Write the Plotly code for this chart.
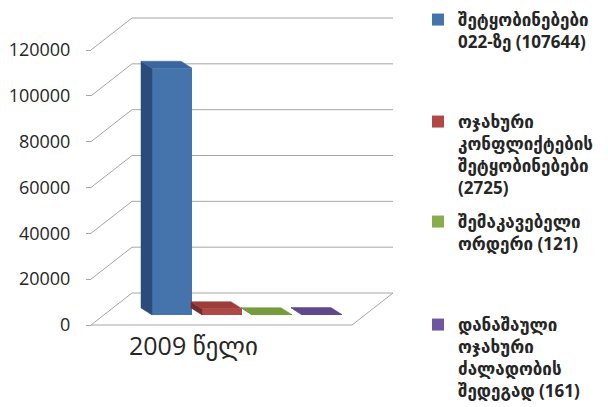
import plotly.graph_objects as go

# ---------------- data ----------------
category = "2009 წელი"
series_names = [
    "შეტყობინებები<br>022-ზე (107644)",
    "ოჯახური<br>კონფლიქტების<br>შეტყობინებები<br>(2725)",
    "შემაკავებელი<br>ორდერი (121)",
    "დანაშაული<br>ოჯახური<br>ძალადობის<br>შედეგად (161)",
]
series_values = [107644, 2725, 121, 161]
y_tickvals = [0, 20000, 40000, 60000, 80000, 100000, 120000]
y_ticktext = ["0", "20000", "40000", "60000", "80000", "100000", "120000"]

# ---------------- styling ----------------
front_colors = ["#4574AC", "#B04946", "#88AD4A", "#6E57A0"]
side_colors = ["#2B4C7A", "#762C2A", "#5B782C", "#4B3A72"]
top_colors = ["#3A659E", "#9E3E3B", "#769A3E", "#5D498C"]
grid_color = "#A6A6A6"
text_color = "#262626"

W, H = 608, 407
off = 8                                    # page body margin of the browser
zero_px, top_px = 325, 50                  # screen rows for 0 and 120000
scale = (zero_px - top_px) / max(y_tickvals)   # px per unit
ymin = -(H - (zero_px - off)) / scale
ymax = ymin + H / scale

wall_x0 = 91          # front-left edge of the side wall (screen px)
depth_dx = 41         # horizontal depth of the floor (px)
depth_dy = 32 / scale # vertical depth of the floor (units)
wall_right = 393
floor_right = 352

bar_first_center = 172
bar_step = 50
bar_width = 40
bar_base = 4400                     # bars stand back on the floor
bar_side_dx = -11
bar_side_dy = 7 / scale

fig = go.Figure()

# walls / gridlines as shapes below the traces
shapes = []
line = dict(color=grid_color, width=1)
for v in y_tickvals:
    shapes.append(dict(type="line", xref="x", yref="y", x0=wall_x0, y0=v,
                       x1=wall_x0 + depth_dx, y1=v + depth_dy, line=line, layer="below"))
    shapes.append(dict(type="line", xref="x", yref="y", x0=wall_x0 + depth_dx, y0=v + depth_dy,
                       x1=wall_right, y1=v + depth_dy, line=line, layer="below"))
shapes.append(dict(type="line", xref="x", yref="y", x0=wall_x0, y0=0, x1=floor_right, y1=0,
                   line=line, layer="below"))
shapes.append(dict(type="line", xref="x", yref="y", x0=floor_right, y0=0, x1=wall_right,
                   y1=depth_dy, line=line, layer="below"))

legend_ids = ["legend", "legend2", "legend3", "legend4"]
for i, (name, val) in enumerate(zip(series_names, series_values)):
    xc = bar_first_center + i * bar_step
    xl, xr = xc - bar_width / 2, xc + bar_width / 2
    yb, yt = bar_base, bar_base + val
    # left side face
    fig.add_trace(go.Scatter(
        x=[xl, xl + bar_side_dx, xl + bar_side_dx, xl, xl],
        y=[yb, yb + bar_side_dy, yt + bar_side_dy, yt, yb],
        fill="toself", fillcolor=side_colors[i], mode="lines",
        line=dict(width=0.5, color=side_colors[i]), showlegend=False, hoverinfo="skip"))
    # top face
    fig.add_trace(go.Scatter(
        x=[xl, xl + bar_side_dx, xr + bar_side_dx, xr, xl],
        y=[yt, yt + bar_side_dy, yt + bar_side_dy, yt, yt],
        fill="toself", fillcolor=top_colors[i], mode="lines",
        line=dict(width=0.5, color=top_colors[i]), showlegend=False, hoverinfo="skip"))
    # front face
    fig.add_trace(go.Bar(
        x=[xc], y=[val], base=[bar_base], width=[bar_width], name=name,
        marker=dict(color=front_colors[i], line=dict(width=0)),
        legend=legend_ids[i]))

legend_font = dict(family="Open Sans, DejaVu Sans", size=17, color=text_color, weight="bold")
legend_left = 418            # screen px
legend_swatch_rows = [21, 123, 223, 326]   # screen px of each entry's swatch
layout_legends = {}
for lid, sw in zip(legend_ids, legend_swatch_rows):
    top = sw - off - 19
    layout_legends[lid] = dict(x=(legend_left - off) / W, y=1 - top / H,
                               xanchor="left", yanchor="top", valign="top",
                               font=legend_font, bgcolor="rgba(0,0,0,0)", borderwidth=0)

fig.update_layout(
    width=W, height=H,
    margin=dict(l=0, r=0, t=0, b=0, autoexpand=False),
    paper_bgcolor="white", plot_bgcolor="rgba(0,0,0,0)",
    barmode="overlay",
    showlegend=True,
    shapes=shapes,
    xaxis=dict(range=[off, W + off], visible=False, domain=[0, 1], fixedrange=True),
    yaxis=dict(range=[ymin, ymax], domain=[0, 1], anchor="free", position=(wall_x0 - off) / W,
               tickvals=y_tickvals, ticktext=y_ticktext, showgrid=False, zeroline=False,
               showline=False, ticks="outside", ticklen=5, tickcolor=grid_color,
               ticklabelstandoff=12,
               tickfont=dict(family="Open Sans", size=18, color=text_color)),
    annotations=[dict(text=category, xref="x", yref="y",
                      x=193, y=0, yshift=-20,
                      xanchor="center", yanchor="middle", showarrow=False,
                      font=dict(family="Open Sans, DejaVu Sans", size=25, color=text_color))],
    **layout_legends,
)

fig.write_html("out.html")
